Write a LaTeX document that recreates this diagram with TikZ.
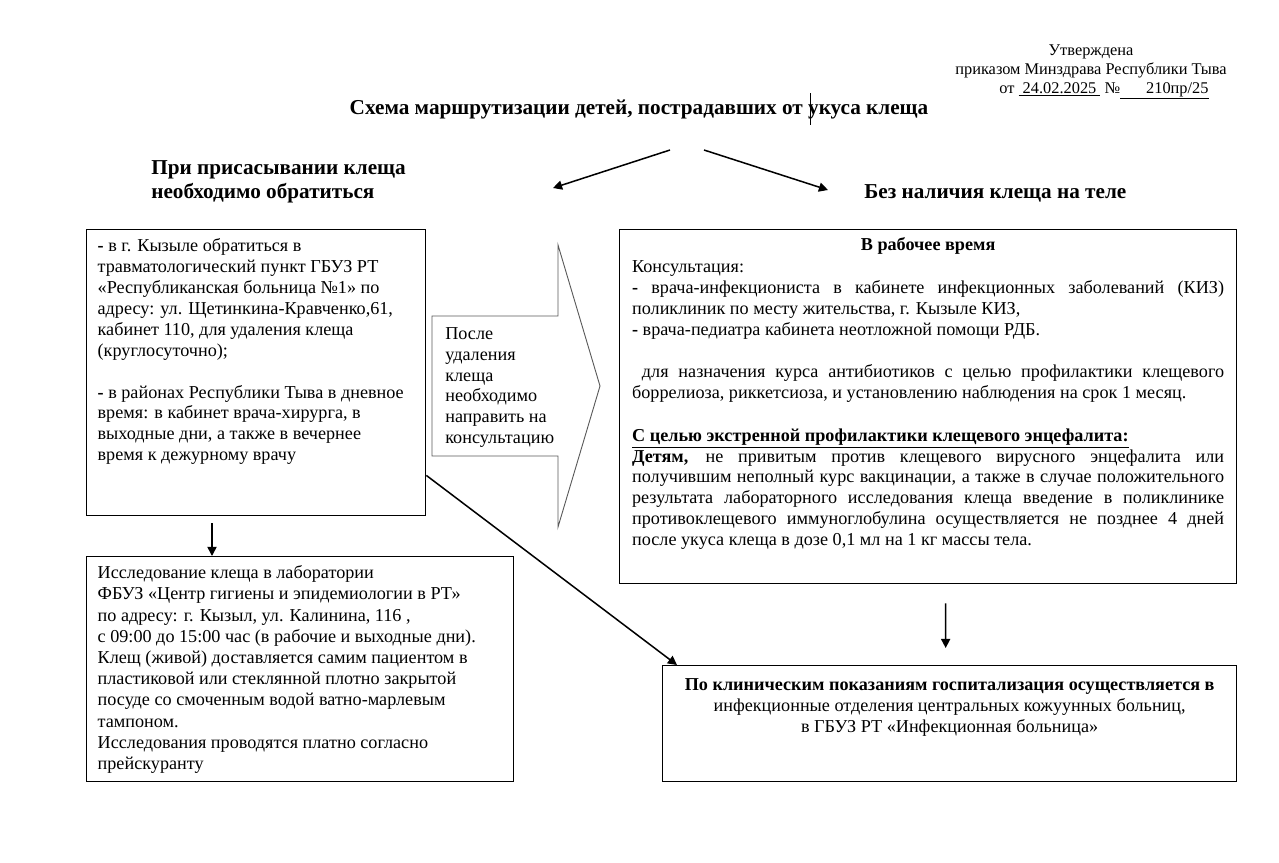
\documentclass[tikz,border=0pt]{standalone}
\usepackage{fontspec}
\setmainfont{Liberation Serif}
\usetikzlibrary{arrows.meta, positioning, calc}
\newdimen\pxu \pxu=0.66pt

\begin{document}
\begin{tikzpicture}[x=0.66pt, y=-0.66pt,
    box/.style={draw, line width=0.8pt, anchor=north west, inner xsep=7.3pt, inner ysep=5pt, font=\fontsize{12}{13.8}\selectfont},
    head/.style={font=\fontsize{14}{15.2}\selectfont\bfseries},
    arr/.style={-{Triangle[length=6pt,width=6pt]}, line width=1pt}]

  \useasboundingbox (0,0) rectangle (1279,862);

  % header
  \node[font=\fontsize{10.8}{12.6}\selectfont, align=center] (approved) at (1091,72)
    {Утверждена\\ приказом Минздрава Республики Тыва\\
     \hspace*{26\pxu}от \underline{ 24.02.2025 } №\underline{\hspace{26\pxu}210пр/25}};

  % title
  \node[head] (title) at (639,109) {Схема маршрутизации детей, пострадавших от укуса клеща};
  \draw[line width=0.4pt] (810,93) -- (810,125);

  \node[head, align=left, anchor=west, font=\fontsize{14}{16.2}\selectfont\bfseries] (withtick) at (146,182) {При присасывании клеща\\ необходимо обратиться};
  \node[head, anchor=west] (notick) at (859,193) {Без наличия клеща на теле};

  \coordinate (forkL) at (670,150);
  \coordinate (forkR) at (704,150);
  \coordinate (endL) at (553,188);
  \coordinate (endR) at (828,190);
  \draw[arr] (forkL) -- (endL);
  \draw[arr] (forkR) -- (endR);

  % left column
  \node[box, inner ysep=6pt] (remove) at (86,229) {\parbox[t][268\pxu][t]{317\pxu}{\raggedright
    \textbf{-} в г. Кызыле обратиться в\\ травматологический пункт ГБУЗ РТ\\
    «Республиканская больница №1» по\\ адресу: ул. Щетинкина-Кравченко,61,\\
    кабинет 110, для удаления клеща\\ (круглосуточно);\\[13.8pt]
    \textbf{-} в районах Республики Тыва в дневное\\ время: в кабинет врача-хирурга, в\\
    выходные дни, а также в вечернее\\ время к дежурному врачу}};

  \node[box, inner ysep=6pt, font=\fontsize{12}{14}\selectfont] (lab) at (86,556) {\parbox[t][207\pxu][t]{405\pxu}{\raggedright
    Исследование клеща в лаборатории\\ ФБУЗ «Центр гигиены и эпидемиологии в РТ»\\
    по адресу: г. Кызыл, ул. Калинина, 116 ,\\ с 09:00 до 15:00 час (в рабочие и выходные дни).\\
    Клещ (живой) доставляется самим пациентом в\\ пластиковой или стеклянной плотно закрытой\\
    посуде со смоченным водой ватно-марлевым\\ тампоном.\\
    Исследования проводятся платно согласно\\ прейскуранту}};

  % block arrow
  \draw[gray!70!black, line width=0.6pt] (432,316) -- (558,316) -- (558,245) -- (600,386)
    -- (558,527) -- (558,456) -- (432,456) -- cycle;
  \node[anchor=north west, align=left, inner sep=0pt, font=\fontsize{12}{13.8}\selectfont] (advice) at (445,327)
    {После\\ удаления\\ клеща\\ необходимо\\ направить на\\ консультацию};

  % right column
  \node[box, inner xsep=8.25pt] (work) at (619,229) {\parbox[t][339\pxu][t]{592\pxu}{
    {\centering\textbf{В рабочее время}\par}\vspace{1pt}
    Консультация:\par
    \textbf{-} врача-инфекциониста в кабинете инфекционных заболеваний (КИЗ) поликлиник по месту жительства, г. Кызыле КИЗ,\par
    \textbf{-} врача-педиатра кабинета неотложной помощи РДБ.\par
    \vspace{13.8pt}
    \ для назначения курса антибиотиков с целью профилактики клещевого боррелиоза, риккетсиоза, и установлению наблюдения на срок 1 месяц.\par
    \vspace{14.6pt}
    \underline{\textbf{С целью экстренной профилактики клещевого энцефалита:}}\par
    \textbf{Детям,} не привитым против клещевого вирусного энцефалита или получившим неполный курс вакцинации, а также в случае положительного результата лабораторного исследования клеща введение в поликлинике противоклещевого иммуноглобулина осуществляется не позднее 4 дней после укуса клеща в дозе 0,1 мл на 1 кг массы тела.}};

  \node[box, inner ysep=8.5pt] (hosp) at (662,665) {\parbox[t][90\pxu][t]{552\pxu}{\centering
    \textbf{По клиническим показаниям госпитализация осуществляется в}\\
    инфекционные отделения центральных кожуунных больниц,\\ в ГБУЗ РТ «Инфекционная больница»}};

  \draw[arr] ($(remove.south west)+(126,7)$) -- ($(lab.north west)+(126,0)$);
  \draw[arr] ($(work.south)+(17.5,19)$) -- ($(hosp.north)+(-4,-17)$);
  \draw[arr] ($(remove.south east)+(0,-41)$) -- ($(hosp.north west)+(15,0)$);
\end{tikzpicture}
\end{document}
